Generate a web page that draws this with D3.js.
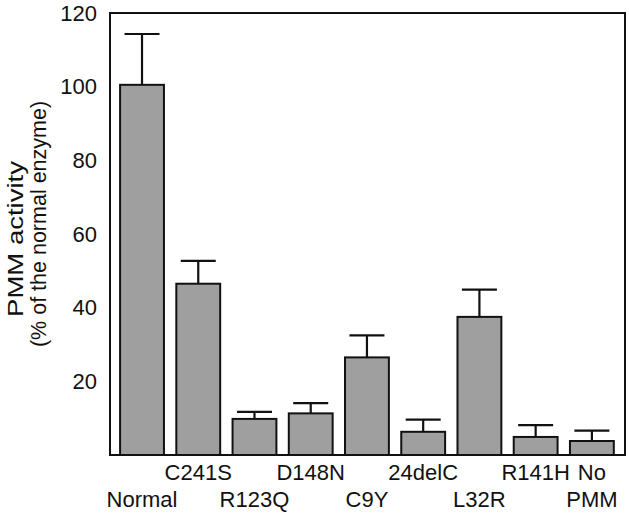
<!DOCTYPE html>
<html>
<head>
<meta charset="utf-8">
<script src="https://cdn.jsdelivr.net/npm/d3@7"></script>
<style>
  body { margin: 0; background: #fff; }
  svg { display: block; }
  text { font-family: "Liberation Sans", Arial, sans-serif; fill: #111; }
</style>
</head>
<body>
<svg id="chart" width="629" height="516"></svg>
<script>
const categories = ["Normal", "C241S", "R123Q", "D148N", "C9Y", "24delC", "L32R", "R141H", "No PMM"];
const values = [100.5, 46.5, 9.8, 11.3, 26.5, 6.3, 37.5, 4.9, 3.8];
const errors = [13.8, 6.2, 1.9, 2.8, 6.0, 3.3, 7.4, 3.2, 2.8];
// label lines: [upper row, lower row]
const labelLines = [["", "Normal"], ["C241S", ""], ["", "R123Q"], ["D148N", ""], ["", "C9Y"], ["24delC", ""], ["", "L32R"], ["R141H", ""], ["No", "PMM"]];
const yTicks = [20, 40, 60, 80, 100, 120];
const yTitle = ["PMM activity", "(% of the normal enzyme)"];

const svg = d3.select("#chart");
const frame = { left: 110, right: 625, top: 13, bottom: 455 };

const x = d3.scaleBand()
  .domain(categories)
  .range([113.9, 620])
  .paddingInner(0.22)
  .paddingOuter(0.11);

const y = d3.scaleLinear().domain([0, 120]).range([frame.bottom, frame.top]);

// frame
svg.append("rect")
  .attr("x", frame.left).attr("y", frame.top)
  .attr("width", frame.right - frame.left).attr("height", frame.bottom - frame.top)
  .attr("fill", "none").attr("stroke", "#111").attr("stroke-width", 2);

// y axis labels (no tick marks)
const yAxis = d3.axisLeft(y).tickValues(yTicks).tickSize(0).tickPadding(13);
const gy = svg.append("g").attr("transform", `translate(${frame.left},0)`).call(yAxis);
gy.select(".domain").remove();
gy.selectAll("text").style("font-size", "22px").attr("fill", "#111")
  .style("font-family", '"Liberation Sans", Arial, sans-serif');

// y title
svg.append("text")
  .attr("transform", `translate(23,239) rotate(-90) scale(1.25,1)`)
  .attr("text-anchor", "middle")
  .style("font-size", "22px")
  .text(yTitle[0]);
svg.append("text")
  .attr("transform", `translate(46,224) rotate(-90)`)
  .attr("text-anchor", "middle")
  .style("font-size", "21.5px")
  .text(yTitle[1]);

const data = categories.map((c, i) => ({ c, v: values[i], e: errors[i], lines: labelLines[i] }));

// error bars
const capW = 35;
const eg = svg.append("g").attr("stroke", "#111").attr("stroke-width", 2.2);
eg.selectAll("line.stem").data(data).join("line")
  .attr("class", "stem")
  .attr("x1", d => x(d.c) + x.bandwidth() / 2)
  .attr("x2", d => x(d.c) + x.bandwidth() / 2)
  .attr("y1", d => y(d.v))
  .attr("y2", d => y(d.v + d.e));
eg.selectAll("line.cap").data(data).join("line")
  .attr("class", "cap")
  .attr("x1", d => x(d.c) + x.bandwidth() / 2 - capW / 2)
  .attr("x2", d => x(d.c) + x.bandwidth() / 2 + capW / 2)
  .attr("y1", d => y(d.v + d.e))
  .attr("y2", d => y(d.v + d.e));

// bars
svg.append("g").selectAll("rect").data(data).join("rect")
  .attr("x", d => x(d.c))
  .attr("y", d => y(d.v))
  .attr("width", x.bandwidth())
  .attr("height", d => y(0) - y(d.v))
  .attr("fill", "#9f9f9f")
  .attr("stroke", "#111")
  .attr("stroke-width", 2);

// x labels
const lg = svg.append("g");
data.forEach(d => {
  const cx = x(d.c) + x.bandwidth() / 2;
  d.lines.forEach((t, r) => {
    if (!t) return;
    lg.append("text")
      .attr("x", cx)
      .attr("y", r === 0 ? 480 : 507)
      .attr("text-anchor", "middle")
      .style("font-size", "22px")
      .text(t);
  });
});
</script>
</body>
</html>
